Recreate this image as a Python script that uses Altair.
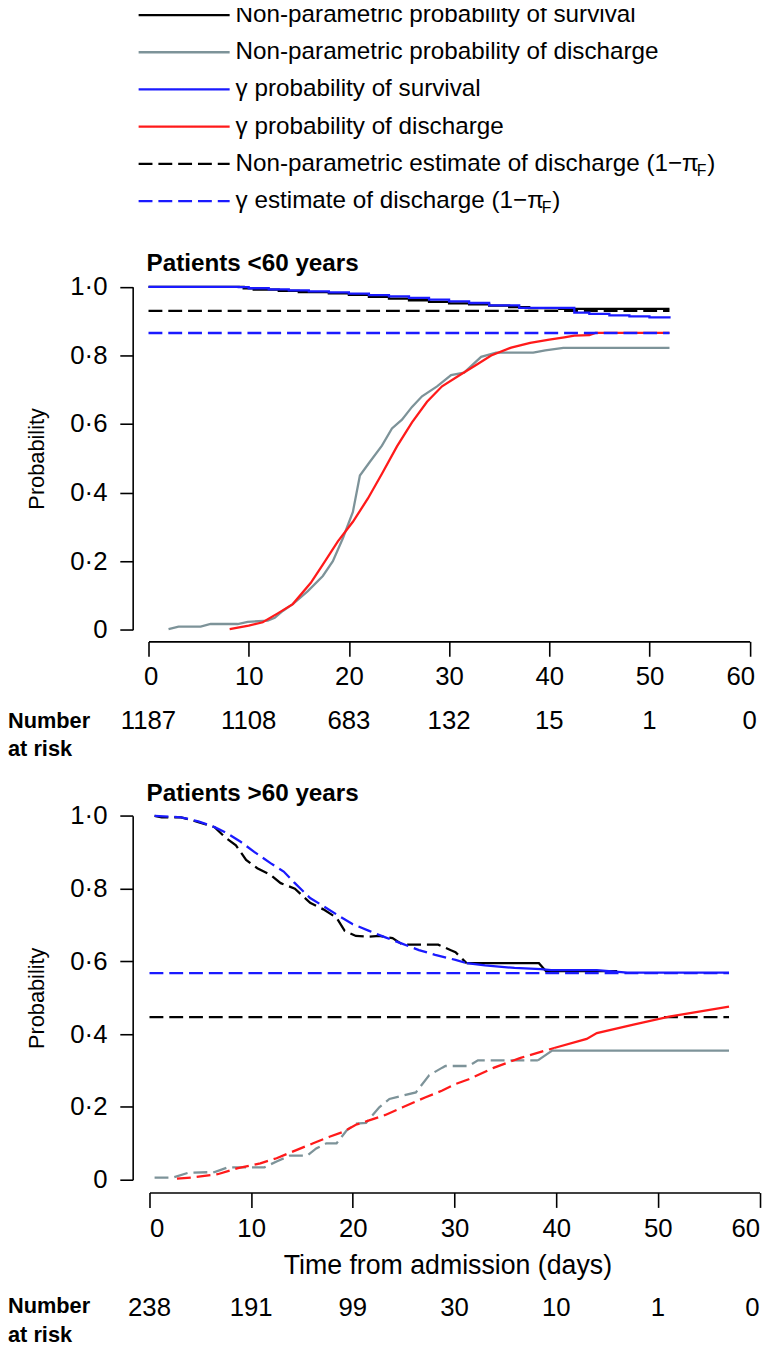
import altair as alt
import pandas as pd

# ---------------- data ----------------
TICKS_X = [0, 10, 20, 30, 40, 50, 60]
TICKS_Y = [0, 0.2, 0.4, 0.6, 0.8, 1.0]

# Patients <60 years
top_np_surv_day = [0, 9.5, 10.5, 13, 15, 18, 20, 22, 24, 26, 28, 30, 32, 34, 36, 38, 41, 52]
top_np_surv_p = [1.0, 0.996, 0.992, 0.988, 0.985, 0.981, 0.977, 0.971, 0.966, 0.961, 0.956, 0.952,
                 0.949, 0.945, 0.941, 0.938, 0.936, 0.936]
top_g_surv_day = [0, 9, 10, 12, 14, 16, 18, 20, 22, 24, 26, 28, 30, 32, 34, 37, 42.5, 44, 46, 48, 50, 52]
top_g_surv_p = [1.0, 0.999, 0.996, 0.993, 0.990, 0.987, 0.984, 0.980, 0.976, 0.972, 0.968, 0.963,
                0.958, 0.953, 0.946, 0.939, 0.925, 0.921, 0.917, 0.914, 0.911, 0.908]
top_np_dis_day = [2.0, 3.0, 5.2, 6.2, 8.9, 9.9, 11.9, 12.6, 13.4, 14.4, 15.9, 17.4, 18.4, 19.4, 20.4,
                  21.1, 22.1, 23.3, 24.3, 25.3, 26.3, 27.3, 28.8, 30.2, 31.5, 33.2, 34.7, 38.4, 39.6,
                  41.4, 52]
top_np_dis_p = [0.002, 0.0095, 0.0095, 0.017, 0.017, 0.023, 0.027, 0.035, 0.055, 0.075, 0.113, 0.157,
                0.200, 0.267, 0.344, 0.450, 0.490, 0.537, 0.587, 0.613, 0.650, 0.681, 0.710, 0.743,
                0.750, 0.796, 0.808, 0.808, 0.815, 0.822, 0.822]
top_g_dis_day = [8.1, 10.0, 11.4, 12.9, 14.4, 16.2, 17.4, 18.9, 20.4, 21.9, 23.3, 24.8, 26.3, 27.8,
                 29.3, 31.2, 32.7, 34.2, 36.2, 38.1, 40.0, 41.5, 42.5, 44.0, 44.6, 52]
top_g_dis_p = [0.002, 0.012, 0.022, 0.048, 0.075, 0.137, 0.190, 0.258, 0.315, 0.383, 0.455, 0.535,
               0.605, 0.665, 0.710, 0.745, 0.772, 0.800, 0.823, 0.837, 0.846, 0.853, 0.858, 0.859,
               0.866, 0.866]
top_est_day = [0, 52]
top_np_est = 0.930
top_g_est = 0.8655
risk_top = [1187, 1108, 683, 132, 15, 1, 0]

# Patients >60 years
bot_np_surv_day = [0.5, 1.2, 3.1, 4.8, 6.4, 7.4, 8.5, 9.5, 10.6, 11.9, 12.9, 14.3, 15.1, 15.8, 17.1,
                   18.4, 19.2, 20.3, 21.6, 22.6, 23.9, 24.9, 28.4, 29.7, 30.1, 31.2, 38.3, 39.0, 46.0]
bot_np_surv_p = [1.0, 0.996, 0.996, 0.983, 0.969, 0.942, 0.919, 0.879, 0.856, 0.838, 0.815, 0.800,
                 0.779, 0.761, 0.743, 0.720, 0.684, 0.670, 0.668, 0.670, 0.664, 0.646, 0.646, 0.630,
                 0.625, 0.595, 0.595, 0.573, 0.573]
bot_g_surv_day = [0.5, 3.1, 4.8, 6.4, 7.7, 9.0, 10.3, 11.9, 13.2, 14.2, 15.8, 17.1, 18.4, 20.0, 21.6,
                  23.2, 24.9, 26.5, 28.1, 30.1, 31.2, 33.0, 35.9, 38.5, 39.5, 44.0, 47.0, 57.0]
bot_g_surv_p = [1.0, 0.996, 0.985, 0.969, 0.951, 0.928, 0.901, 0.870, 0.847, 0.818, 0.774, 0.752,
                0.729, 0.702, 0.684, 0.666, 0.648, 0.631, 0.618, 0.604, 0.595, 0.589, 0.582, 0.579,
                0.576, 0.576, 0.569, 0.569]
bot_np_dis_day = [0.5, 2.3, 3.8, 6.4, 7.7, 11.3, 12.5, 13.8, 15.5, 16.4, 17.4, 18.4, 19.4, 20.3, 21.3,
                  22.6, 23.6, 24.9, 26.2, 27.5, 28.8, 29.1, 31.4, 32.3, 38.2, 39.6, 57.0]
bot_np_dis_p = [0.006, 0.006, 0.019, 0.021, 0.034, 0.034, 0.050, 0.066, 0.066, 0.086, 0.100, 0.100,
                0.136, 0.154, 0.156, 0.199, 0.222, 0.231, 0.240, 0.287, 0.308, 0.3125, 0.3125, 0.328,
                0.328, 0.355, 0.355]
bot_g_dis_day = [2.7, 4.1, 6.7, 8.7, 10.9, 12.5, 14.5, 16.1, 17.7, 19.0, 20.3, 21.6, 23.2, 24.9, 27.1,
                 28.8, 30.1, 31.4, 33.9, 36.5, 39.8, 43.0, 44.0, 47.6, 51.1, 57.0]
bot_g_dis_p = [0.003, 0.006, 0.015, 0.032, 0.045, 0.059, 0.082, 0.100, 0.118, 0.131, 0.151, 0.163,
               0.178, 0.199, 0.226, 0.245, 0.263, 0.276, 0.308, 0.335, 0.362, 0.387, 0.403, 0.426,
               0.448, 0.476]
bot_est_day = [0, 57]
bot_np_est = 0.447
bot_g_est = 0.568
risk_bot = [238, 191, 99, 30, 10, 1, 0]
# day after which each >60 curve is drawn solid instead of dashed
bot_cut = {"np_surv": 31.2, "g_surv": 31.2, "np_dis": 38.2, "g_dis": 39.8}

legend_keys = ["np_surv", "np_dis", "g_surv", "g_dis", "np_est", "g_est"]
legend_text = ["Non-parametric probability of survival",
               "Non-parametric probability of discharge",
               "\u03b3 probability of survival",
               "\u03b3 probability of discharge",
               "Non-parametric estimate of discharge (1\u2212\u03c0",
               "\u03b3 estimate of discharge (1\u2212\u03c0"]
legend_sub = ["", "", "", "", "F", "F"]

# ---------------- style / layout ----------------
BLACK, GRAY, BLUE, RED = "#000000", "#7d9399", "#1a1aff", "#ff1a1a"
COLORS = {"np_surv": BLACK, "np_dis": GRAY, "g_surv": BLUE, "g_dis": RED, "np_est": BLACK, "g_est": BLUE}
DASH = [14, 6]
SOLID = [1, 0]
LW = 2.3
NUMF = "'Liberation Sans', Arial, sans-serif"
SANS = "'Liberation Sans', Arial, sans-serif"
NUM_FS = 26
W, H, PAD_L = 620, 1344, 142

XT = alt.Scale(domain=[0, 60], range=[0, 607.5], nice=False, zero=False)
YT = alt.Scale(domain=[0, 1], range=[621.3, 274.7], nice=False, zero=False)
XB = alt.Scale(domain=[0, 60], range=[1, 617.5], nice=False, zero=False)
YB = alt.Scale(domain=[0, 1], range=[1177, 809.3], nice=False, zero=False)
LEG_Y = alt.Scale(domain=[0, 5], range=[0, 188], nice=False, zero=False)

LABEL_EXPR = "datum.value == 0 ? '0' : replace(format(datum.value, '.1f'), '.', '\u00b7')"
AX_COMMON = dict(domainColor="black", tickColor="black", labelColor="black", titleColor="black",
                 domainWidth=1.6, tickWidth=1.6, grid=False, labelFont=NUMF, labelFontSize=NUM_FS,
                 labelOverlap=False)


def yaxis():
    return alt.Axis(orient="left", offset=16, values=TICKS_Y, tickSize=13, labelPadding=13,
                    labelExpr=LABEL_EXPR, title="Probability", titleFont=SANS, titleFontSize=22,
                    titleFontWeight="normal", titleX=-97, titleBaseline="middle", titleAngle=270,
                    labelFlush=False, **AX_COMMON)


def xaxis(offset, flush_offset, title=None):
    kw = dict(orient="bottom", offset=offset, values=TICKS_X, tickSize=15, labelPadding=8,
              format="d", labelFlush=True, labelFlushOffset=flush_offset, **AX_COMMON)
    if title:
        kw.update(title=title, titleFont=SANS, titleFontSize=27, titleFontWeight="normal",
                  titleX=302, titleY=74, titleBaseline="middle")
    else:
        kw.update(title=None)
    return alt.Axis(**kw)


def curve(days, probs, color, xs, ys, dash=None, interp="linear", xa=None, ya=None):
    df = pd.DataFrame({"day": days, "p": probs})
    kw = dict(color=color, strokeWidth=LW, interpolate=interp)
    if dash:
        kw["strokeDash"] = dash
    return alt.Chart(df).mark_line(**kw).encode(
        x=alt.X("day:Q", scale=xs, axis=xa),
        y=alt.Y("p:Q", scale=ys, axis=ya),
    )


def split_curve(days, probs, cut, color, xs, ys, xa=None, ya=None):
    d1 = [(d, p) for d, p in zip(days, probs) if d <= cut]
    d2 = [(d, p) for d, p in zip(days, probs) if d >= cut]
    a = curve([d for d, _ in d1], [p for _, p in d1], color, xs, ys, dash=DASH, xa=xa, ya=ya)
    b = curve([d for d, _ in d2], [p for _, p in d2], color, xs, ys)
    return [a, b]


def risk_layers(counts, xs, ypix, flush_last=False):
    df = pd.DataFrame({"day": TICKS_X, "n": [str(c) for c in counts]})
    parts = [(df, "center")] if not flush_last else [(df.iloc[:-1], "center"), (df.iloc[-1:], "right")]
    out = []
    for d, al in parts:
        out.append(alt.Chart(d).mark_text(font=NUMF, fontSize=NUM_FS, align=al, baseline="middle",
                                          color="black").encode(
            x=alt.X("day:Q", scale=xs, axis=None), y=alt.value(ypix), text="n:N"))
    return out


def free_text(txt, x, y, font, size, weight="normal", align="left", baseline="middle", color="black"):
    return alt.Chart(pd.DataFrame({"t": [txt]})).mark_text(
        font=font, fontSize=size, fontWeight=weight, align=align, baseline=baseline, color=color
    ).encode(x=alt.value(x), y=alt.value(y), text="t:N")


layers = []

# ---- legend ----
leg = pd.DataFrame({"row": list(range(6)), "key": legend_keys, "label": legend_text})
layers.append(alt.Chart(leg).mark_rule(strokeWidth=LW).encode(
    x=alt.value(-10), x2=alt.value(82),
    y=alt.Y("row:Q", scale=LEG_Y, axis=None),
    color=alt.Color("key:N", scale=alt.Scale(domain=legend_keys, range=[COLORS[k] for k in legend_keys]),
                    legend=None),
    strokeDash=alt.StrokeDash("key:N", scale=alt.Scale(domain=legend_keys,
                                                      range=[SOLID, SOLID, SOLID, SOLID, DASH, DASH]),
                              legend=None),
))
LEG_FS = 24.5
layers.append(alt.Chart(leg).mark_text(font=SANS, fontSize=LEG_FS, align="left", baseline="middle",
                                       color="black").encode(
    x=alt.value(88), y=alt.Y("row:Q", scale=LEG_Y, axis=None), text="label:N"))

# Arial-compatible advance widths (per 1000 em) to place the subscript after the text
ADV = {" ": 278, "(": 333, ")": 333, "1": 556, "\u2212": 584, "\u03c0": 580, "\u03b3": 500, "-": 333,
       "N": 722, "a": 556, "b": 556, "c": 500, "d": 556, "e": 556, "f": 278, "g": 556, "h": 556,
       "i": 222, "l": 222, "m": 833, "n": 556, "o": 556, "p": 556, "r": 333, "s": 500, "t": 278,
       "u": 556, "v": 500, "y": 500}
for i, sub in enumerate(legend_sub):
    if not sub:
        continue
    wpx = sum(ADV.get(ch, 556) for ch in legend_text[i]) * LEG_FS / 1000.0
    xsub = 88 + wpx + 0.5
    ysub = 188 * i / 5.0
    layers.append(free_text(sub, xsub, ysub + 7, SANS, 16))
    layers.append(free_text(")", xsub + 10.5, ysub, SANS, LEG_FS))

# ---- top panel (<60 years) ----
layers.append(free_text("Patients <60 years", -2, 252, SANS, 24.5, weight="bold"))
layers.append(curve(top_np_dis_day, top_np_dis_p, GRAY, XT, YT, xa=xaxis(633 - H, 5), ya=yaxis()))
layers.append(curve(top_g_dis_day, top_g_dis_p, RED, XT, YT))
layers.append(curve(top_est_day, [top_np_est, top_np_est], BLACK, XT, YT, dash=DASH))
layers.append(curve(top_np_surv_day, top_np_surv_p, BLACK, XT, YT, interp="step-after"))
layers.append(curve(top_g_surv_day, top_g_surv_p, BLUE, XT, YT, interp="step-after"))
layers.append(curve(top_est_day, [top_g_est, top_g_est], BLUE, XT, YT, dash=DASH))
layers += risk_layers(risk_top, XT, 714)
layers.append(free_text("Number", -142, 714, SANS, 22, weight="bold"))
layers.append(free_text("at risk", -142, 742, SANS, 22, weight="bold"))

# ---- bottom panel (>60 years) ----
layers.append(free_text("Patients >60 years", -2, 787, SANS, 24.5, weight="bold"))
layers.append(curve(bot_est_day, [bot_np_est, bot_np_est], BLACK, XB, YB, dash=DASH,
                    xa=xaxis(1190 - H, 0, "Time from admission (days)"), ya=yaxis()))
layers += split_curve(bot_np_dis_day, bot_np_dis_p, bot_cut["np_dis"], GRAY, XB, YB)
layers += split_curve(bot_g_dis_day, bot_g_dis_p, bot_cut["g_dis"], RED, XB, YB)
layers += split_curve(bot_np_surv_day, bot_np_surv_p, bot_cut["np_surv"], BLACK, XB, YB)
layers += split_curve(bot_g_surv_day, bot_g_surv_p, bot_cut["g_surv"], BLUE, XB, YB)
layers.append(curve(bot_est_day, [bot_g_est, bot_g_est], BLUE, XB, YB, dash=DASH))
layers += risk_layers(risk_bot, XB, 1307, flush_last=True)
layers.append(free_text("Number", -142, 1305, SANS, 22, weight="bold"))
layers.append(free_text("at risk", -142, 1334, SANS, 22, weight="bold"))

chart = alt.layer(*layers).resolve_scale(
    x="independent", y="independent", color="independent", strokeDash="independent"
).resolve_axis(x="independent", y="independent").properties(
    width=W, height=H,
    autosize=alt.AutoSizeParams(type="none"),
    padding={"left": PAD_L, "top": 0, "right": 0, "bottom": 0},
    background="white",
).configure_view(stroke=None)

chart.save("out.html", embed_options={"renderer": "svg", "actions": False})
